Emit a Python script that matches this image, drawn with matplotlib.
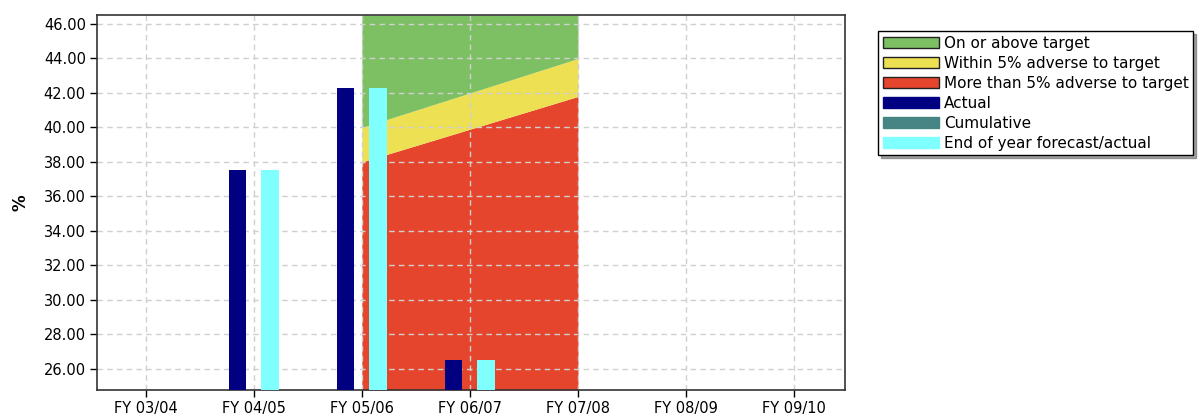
import matplotlib
matplotlib.use("Agg")
from matplotlib import pyplot as plt
from matplotlib.patches import Patch

years = ["FY 03/04", "FY 04/05", "FY 05/06", "FY 06/07", "FY 07/08", "FY 08/09", "FY 09/10"]
actual = [None, 37.55, 42.3, 26.5, None, None, None]
forecast = [None, 37.55, 42.3, 26.5, None, None, None]

# target band, years 05/06 .. 07/08
band_idx = [2, 3, 4]
target = [40.0, 42.0, 44.0]
adverse5 = [38.0, 39.9, 41.8]

green = "#7dbf63"
yellow = "#ede052"
red = "#e5452d"
navy = "#000080"
teal = "#478585"
cyan = "#80ffff"

fig = plt.figure(figsize=(12.03, 4.2), dpi=100)
ax = fig.add_axes([97 / 1203, 30 / 420, 748 / 1203, 375 / 420])

ymin, ymax = 24.78, 46.52
ax.fill_between(band_idx, ymin, adverse5, color=red, lw=0, zorder=1)
ax.fill_between(band_idx, adverse5, target, color=yellow, lw=0, zorder=1)
ax.fill_between(band_idx, target, ymax, color=green, lw=0, zorder=1)

w = 0.16
for i, v in enumerate(actual):
    if v is not None:
        ax.bar(i - 0.15, v - ymin, w, bottom=ymin, color=navy, zorder=3)
for i, v in enumerate(forecast):
    if v is not None:
        ax.bar(i + 0.15, v - ymin, w, bottom=ymin, color=cyan, zorder=3)

ax.set_xlim(-0.45, 6.47)
ax.set_ylim(ymin, ymax)
ax.set_xticks(range(len(years)))
ax.set_xticklabels(years, fontsize=10.5)
ax.set_yticks([26 + 2 * k for k in range(11)])
ax.set_yticklabels(["%.2f" % (26 + 2 * k) for k in range(11)], fontsize=10.5)
ax.grid(True, color="#d0d0d0", linestyle=(0, (4, 3)), lw=1, zorder=2)
for s in ax.spines.values():
    s.set_linewidth(1.2)
    s.set_color("#333333")
ax.tick_params(length=5, width=1, direction="out", pad=3)
ax.set_ylabel("%", fontsize=12, fontweight="bold")
ax.yaxis.set_label_coords(-0.09, 0.5)

handles = [
    Patch(facecolor=green, edgecolor="#222222", label="On or above target"),
    Patch(facecolor=yellow, edgecolor="#222222", label="Within 5% adverse to target"),
    Patch(facecolor=red, edgecolor="#222222", label="More than 5% adverse to target"),
    Patch(facecolor=navy, edgecolor=navy, label="Actual"),
    Patch(facecolor=teal, edgecolor=teal, label="Cumulative"),
    Patch(facecolor=cyan, edgecolor=cyan, label="End of year forecast/actual"),
]
leg = fig.legend(handles=handles, loc="upper left", bbox_to_anchor=(878 / 1203, 1 - 31 / 420),
                 fontsize=11, frameon=True, fancybox=False, shadow=True, edgecolor="black",
                 handlelength=3.7, handleheight=0.7, labelspacing=0.33, handletextpad=0.3,
                 borderpad=0.3, borderaxespad=0)
leg.get_frame().set_linewidth(1)

fig.savefig("out.png", dpi=100)
